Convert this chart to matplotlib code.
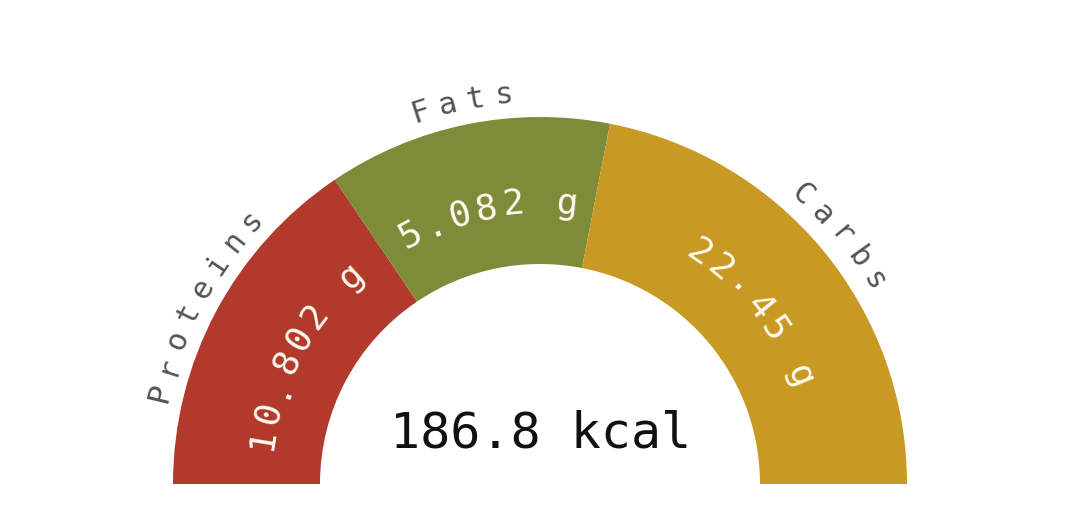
import numpy as np
import matplotlib
matplotlib.use("Agg")
import matplotlib.pyplot as plt

# macros shown on the gauge
names = ["Proteins", "Fats", "Carbs"]
grams = ["10.802 g", "5.082 g", "22.45 g"]
# arc share of each segment, in degrees of the half ring
arc_deg = [56, 45, 79]
total_text = "186.8 kcal"

colors = ["#b13a2c", "#7e8b38", "#c99a23"]
label_color = "#4f5456"
value_color = "#fffaf0"

W, H = 1080, 528
cx, cy = 540, 528 - 484
r_out, r_in = 367, 220

fig = plt.figure(figsize=(W / 100, H / 100), dpi=100)
ax = fig.add_axes([0, 0, 1, 1])

ax.pie(arc_deg + [180], startangle=180, counterclock=False,
       colors=colors + ["none"], radius=r_out, center=(cx, cy),
       wedgeprops=dict(width=r_out - r_in, linewidth=0))
ax.set_xlim(0, W)
ax.set_ylim(0, H)
ax.set_aspect("equal")
ax.axis("off")


def arc_text(s, mid, r_base, step, size, color, weight="normal"):
    """place characters one by one along a circle, reading clockwise"""
    n = len(s)
    for i, ch in enumerate(s):
        a = mid - (i - (n - 1) / 2) * step
        t = np.radians(a)
        ax.text(cx + r_base * np.cos(t), cy + r_base * np.sin(t), ch,
                rotation=a - 90, rotation_mode="anchor",
                ha="center", va="baseline", fontsize=size, color=color,
                family="DejaVu Sans Mono", fontweight=weight)


edges = 180 - np.concatenate([[0], np.cumsum(arc_deg)])
mids = (edges[:-1] + edges[1:]) / 2

for name, g, m in zip(names, grams, mids):
    arc_text(g, m - 0.5, 271, 5.5, 26, value_color)
    arc_text(name, m, 382, 4.15, 22, label_color)

ax.text(541, 80, total_text, ha="center", va="baseline", fontsize=36,
        color="#111111", family="DejaVu Sans Mono")

fig.savefig("out.png", dpi=100)
